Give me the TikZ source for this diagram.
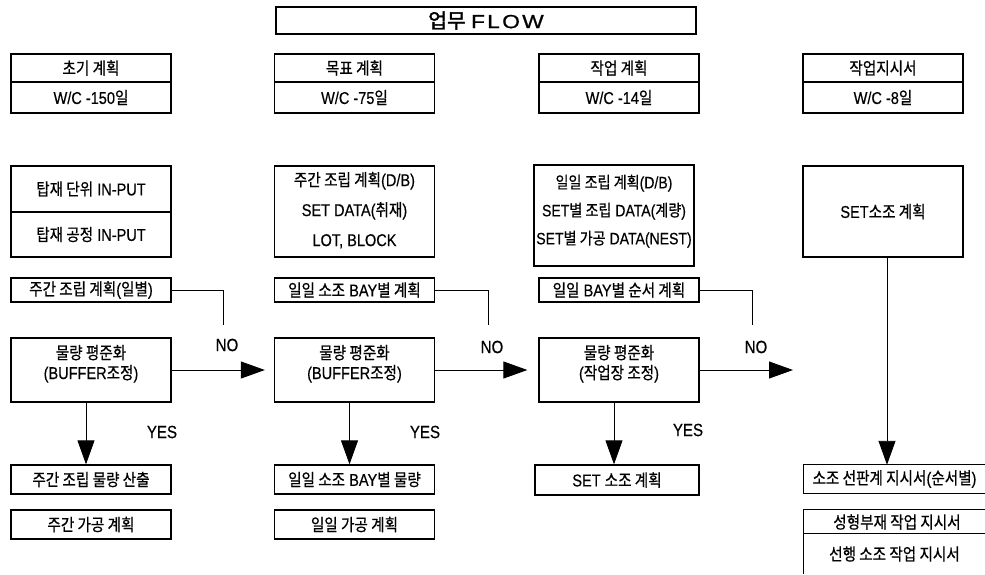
\documentclass[tikz,border=0pt]{standalone}
\usepackage{fontspec}
\setmainfont{Liberation Sans}[Scale=1.18,FakeStretch=0.85,FakeBold=0.4]
\newfontfamily\kr{Noto Sans CJK KR}[Scale=1.17,FakeStretch=0.86,FakeBold=0.6]
\newfontfamily\tkr{Noto Sans CJK KR}[Scale=1.07,FakeBold=2]
\newfontfamily\tlat{Liberation Sans}[FakeStretch=1.2,LetterSpace=12,FakeBold=1]
\newcommand\K[1]{{\kr #1}}
\usetikzlibrary{arrows.meta,calc}
\tikzset{
  box/.style={draw, line width=1.3pt, minimum width=160pt, inner sep=0pt,
    font=\fontsize{14.5}{17}\selectfont, align=center},
  openbox/.style={inner sep=0pt, minimum width=181pt,
    font=\fontsize{14.5}{17}\selectfont, align=center},
  edge/.style={line width=1.3pt},
  conn/.style={line width=0.9pt},
  arr/.style={line width=0.9pt, -{Triangle[length=24pt,width=17pt]}},
  lbl/.style={font=\fontsize{15}{17}\selectfont, inner sep=0pt},
}
\begin{document}
\begin{tikzpicture}[x=1pt,y=-1pt]
\useasboundingbox (0,0) rectangle (985,574);

% title
\node[draw, line width=1.3pt, minimum width=420pt, minimum height=27pt, inner sep=0pt,
  font=\fontsize{19}{21}\selectfont] (title) at (486,20.5) {{\tkr 업무} {\tlat FLOW}};

% header boxes
\node[box, minimum height=28pt] (h1a) at (91,68) {\K{초기 계획}};
\node[box, minimum height=31pt] (h1b) at (91,97.5) {W/C -150\K{일}};
\node[box, minimum height=28pt] (h2a) at (354.5,68) {\K{목표 계획}};
\node[box, minimum height=31pt] (h2b) at (354.5,97.5) {W/C -75\K{일}};
\node[box, minimum height=28pt] (h3a) at (619,68) {\K{작업 계획}};
\node[box, minimum height=31pt] (h3b) at (619,97.5) {W/C -14\K{일}};
\node[box, minimum height=28pt] (h4a) at (883,68) {\K{작업지시서}};
\node[box, minimum height=31pt] (h4b) at (883,97.5) {W/C -8\K{일}};

% input boxes
\node[box, minimum height=46pt] (i1a) at (91,189) {\K{탑재 단위} IN-PUT};
\node[box, minimum height=45pt] (i1b) at (91,234.5) {\K{탑재 공정} IN-PUT};
\node[box, minimum height=91pt, font=\fontsize{14.5}{30}\selectfont] (i2) at (354.5,211.5)
  {\K{주간 조립 계획}(D/B)\\SET DATA(\K{취재})\\LOT, BLOCK\rule[-5pt]{0pt}{5pt}};
\node[box, minimum height=101pt, font=\fontsize{14}{28}\selectfont] (i3) at (614,215.5)
  {\K{일일 조립 계획}(D/B)\\SET\K{별 조립} DATA(\K{계량})\\SET\K{별 가공} DATA(NEST)\rule[-12pt]{0pt}{12pt}};
\node[box, minimum height=91pt] (i4) at (883,211.5) {SET\K{소조 계획}};

% weekly / daily plan boxes
\node[box, minimum height=24pt] (w1) at (91,290) {\K{주간 조립 계획}(\K{일별})};
\node[box, minimum height=24pt] (w2) at (354.5,290) {\K{일일 소조} BAY\K{별 계획}};
\node[box, minimum height=24pt] (w3) at (619,290) {\K{일일} BAY\K{별 순서 계획}};

% balancing boxes
\node[box, minimum height=64pt, font=\fontsize{14.5}{20}\selectfont] (b1) at (91,370)
  {\K{물량 평준화}\\(BUFFER\K{조정})\rule[-16pt]{0pt}{16pt}};
\node[box, minimum height=64pt, font=\fontsize{14.5}{20}\selectfont] (b2) at (354.5,370)
  {\K{물량 평준화}\\(BUFFER\K{조정})\rule[-16pt]{0pt}{16pt}};
\node[box, minimum height=64pt, font=\fontsize{14.5}{20}\selectfont] (b3) at (619,370)
  {\K{물량 평준화}\\(\K{작업장 조정})\rule[-16pt]{0pt}{16pt}};

% result boxes
\node[box, minimum height=29pt] (r1a) at (91,479.5) {\K{주간 조립 물량 산출}};
\node[box, minimum height=29pt] (r1b) at (91,524.5) {\K{주간 가공 계획}};
\node[box, minimum height=29pt] (r2a) at (354.5,479.5) {\K{일일 소조} BAY\K{별 물량}};
\node[box, minimum height=29pt] (r2b) at (354.5,524.5) {\K{일일 가공 계획}};
\node[box, minimum height=30pt, minimum width=164pt] (r3) at (617,480) {SET \K{소조 계획}};

% right column result boxes (run off the right edge)
\node[openbox, minimum height=28pt] (r4) at (894.5,479) {\K{소조 선판계 지시서}(\K{순서별})};
\draw[edge] (r4.north east) -- (r4.north west) -- (r4.south west) -- (r4.south east);
\node[openbox, minimum height=24pt] (r4b) at (897,522) {\K{성형부재 작업 지시서}};
\node[openbox, minimum height=40pt] (r4c) at (894.5,554) {\K{선행 소조 작업 지시서}};
\draw[edge] (r4c.north east |- r4b.north) -- (r4c.north west |- r4b.north) -- (r4c.south west);
\draw[edge] (r4c.north west) -- (r4c.north east);

% NO connectors
\coordinate (n1) at (223,325);
\coordinate (n2) at (488,325);
\coordinate (n3) at (752,325);
\draw[conn] (w1.east) -| (n1);
\draw[conn] (w2.east) -| (n2);
\draw[conn] (w3.east) -| (n3);
\node[lbl] (no1) at (227,345) {NO};
\node[lbl] (no2) at (492,347) {NO};
\node[lbl] (no3) at (756,347) {NO};

% horizontal arrows
\coordinate (e3) at (793,370);
\draw[arr, shorten >=9pt] (b1.east) -- (b2.west);
\draw[arr, shorten >=11pt] (b2.east) -- (b3.west);
\draw[arr] (b3.east) -- (e3);

% YES arrows
\draw[arr] ([xshift=-5pt]b1.south) -- ([xshift=-5pt]b1.south |- r1a.north);
\draw[arr] ([xshift=-5pt]b2.south) -- ([xshift=-5pt]b2.south |- r2a.north);
\draw[arr] ([xshift=-5pt]b3.south) -- ([xshift=-5pt]b3.south |- r3.north);
\node[lbl] (y1) at (162,432) {YES};
\node[lbl] (y2) at (425,432) {YES};
\node[lbl] (y3) at (688,430) {YES};

% SET 소조 arrow
\draw[arr] ([xshift=4pt]i4.south) -- ([xshift=4pt]i4.south |- r4.north);
\end{tikzpicture}
\end{document}
